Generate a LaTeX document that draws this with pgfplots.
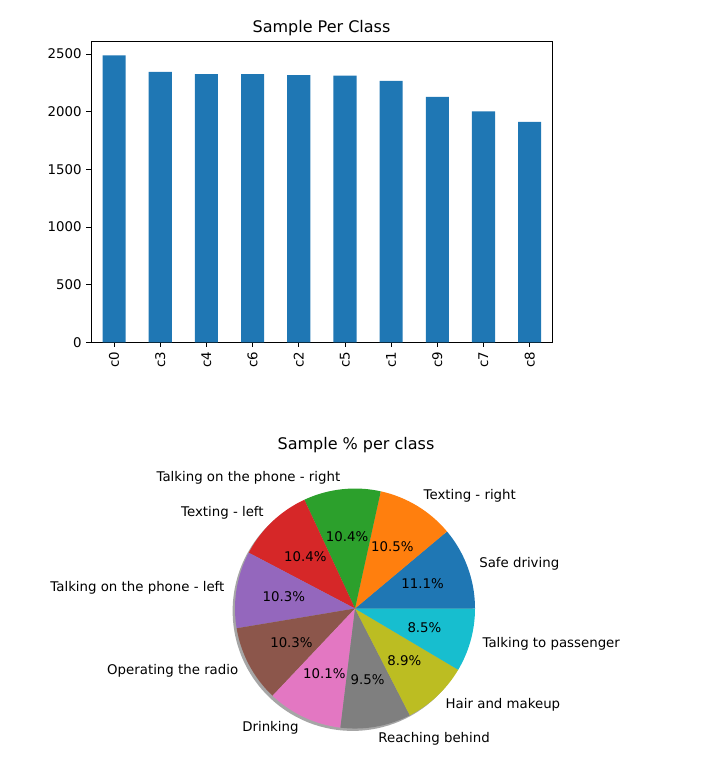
\documentclass[border=0pt]{standalone}
\usepackage{pgfplots}
\usepackage{pgfplotstable}
\pgfplotsset{compat=1.18}
\usepackage{fontspec}
\setmainfont{DejaVu Sans}
\definecolor{tabblue}{HTML}{1F77B4}
\definecolor{taborange}{HTML}{FF7F0E}
\definecolor{tabgreen}{HTML}{2CA02C}
\definecolor{tabred}{HTML}{D62728}
\definecolor{tabpurple}{HTML}{9467BD}
\definecolor{tabbrown}{HTML}{8C564B}
\definecolor{tabpink}{HTML}{E377C2}
\definecolor{tabgray}{HTML}{7F7F7F}
\definecolor{tabolive}{HTML}{BCBD22}
\definecolor{tabcyan}{HTML}{17BECF}

\pgfplotstableread{
cls count
c0 2489
c3 2346
c4 2326
c6 2325
c2 2317
c5 2312
c1 2267
c9 2129
c7 2002
c8 1911
}\counts

% counts in pie order
\def\nA{2489}\def\nB{2346}\def\nC{2326}\def\nD{2325}\def\nE{2317}
\def\nF{2312}\def\nG{2267}\def\nH{2129}\def\nI{2002}\def\nJ{1911}
\edef\tot{\fpeval{\nA+\nB+\nC+\nD+\nE+\nF+\nG+\nH+\nI+\nJ}}
\edef\aA{0}
\edef\aB{\fpeval{\aA+360*\nA/\tot}}
\edef\aC{\fpeval{\aB+360*\nB/\tot}}
\edef\aD{\fpeval{\aC+360*\nC/\tot}}
\edef\aE{\fpeval{\aD+360*\nD/\tot}}
\edef\aF{\fpeval{\aE+360*\nE/\tot}}
\edef\aG{\fpeval{\aF+360*\nF/\tot}}
\edef\aH{\fpeval{\aG+360*\nG/\tot}}
\edef\aI{\fpeval{\aH+360*\nH/\tot}}
\edef\aJ{\fpeval{\aI+360*\nI/\tot}}
\edef\aK{360}

\newcommand\pct[1]{\fpeval{round(100*#1/\tot,1)}\%}
\newcommand\slice[3]{%
  \addplot[fill=#3, draw=none, variable=\t, samples at={-1,0,1,...,40}]
    ({\t<0 ? 0 : cos(#1+(#2-#1)*\t/40)}, {\t<0 ? 0 : sin(#1+(#2-#1)*\t/40)});
}
\newcommand\slicelabel[5]{% start end anchor label count
  \node[lbl, anchor=#3] at (axis cs:{1.1*cos((#1+#2)/2)},{1.1*sin((#1+#2)/2)}) {#4};
  \node[lbl] at (axis cs:{0.6*cos((#1+#2)/2)},{0.6*sin((#1+#2)/2)}) {\pct{#5}};
}

\begin{document}
\begin{tikzpicture}[lbl/.style={font=\fontsize{10}{12}\selectfont, inner sep=0pt, text=black}]
\useasboundingbox (0,0) rectangle (528pt,588pt);

% ---------- bar chart ----------
\begin{axis}[
  at={(68.25pt,331.3pt)}, anchor=south west,
  scale only axis, width=346.3pt, height=226pt,
  xmin=-0.5, xmax=9.5, ymin=0, ymax=2614,
  ybar, bar width=0.5,
  xtick={0,...,9}, xticklabels from table={\counts}{cls},
  xticklabel style={rotate=90, anchor=east},
  ytick={0,500,...,2500},
  tick align=outside, tick pos=left,
  major tick length=3.5pt,
  tick style={black, line width=0.6pt},
  axis line style={black, line width=0.6pt},
  ticklabel style={font=\fontsize{10}{12}\selectfont},
  /pgf/number format/assume math mode=true,
  /pgf/number format/1000 sep={},
]
\addplot[fill=tabblue, draw=none] table[x expr=\coordindex, y=count]{\counts};
\end{axis}
\node[font=\fontsize{12}{14.4}\selectfont] at (241.1pt,567pt) {Sample Per Class};

% ---------- pie chart ----------
\begin{axis}[
  at={(266.25pt,131.6pt)}, anchor=center,
  scale only axis, width=270pt, height=270pt,
  xmin=-1.5, xmax=1.5, ymin=-1.5, ymax=1.5,
  hide axis, clip=false,
]
\addplot[fill=black, fill opacity=0.35, draw=none, domain=0:360, samples=120]
  ({-0.02+cos(x)},{-0.02+sin(x)});
\slice{\aA}{\aB}{tabblue}
\slice{\aB}{\aC}{taborange}
\slice{\aC}{\aD}{tabgreen}
\slice{\aD}{\aE}{tabred}
\slice{\aE}{\aF}{tabpurple}
\slice{\aF}{\aG}{tabbrown}
\slice{\aG}{\aH}{tabpink}
\slice{\aH}{\aI}{tabgray}
\slice{\aI}{\aJ}{tabolive}
\slice{\aJ}{\aK}{tabcyan}
\slicelabel{\aA}{\aB}{west}{Safe driving}{\nA}
\slicelabel{\aB}{\aC}{west}{Texting - right}{\nB}
\slicelabel{\aC}{\aD}{east}{Talking on the phone - right}{\nC}
\slicelabel{\aD}{\aE}{east}{Texting - left}{\nD}
\slicelabel{\aE}{\aF}{east}{Talking on the phone - left}{\nE}
\slicelabel{\aF}{\aG}{east}{Operating the radio}{\nF}
\slicelabel{\aG}{\aH}{east}{Drinking}{\nG}
\slicelabel{\aH}{\aI}{west}{Reaching behind}{\nH}
\slicelabel{\aI}{\aJ}{west}{Hair and makeup}{\nI}
\slicelabel{\aJ}{\aK}{west}{Talking to passenger}{\nJ}
\end{axis}
\node[font=\fontsize{12}{14.4}\selectfont] at (267pt,254.25pt) {Sample \% per class};
\end{tikzpicture}
\end{document}
